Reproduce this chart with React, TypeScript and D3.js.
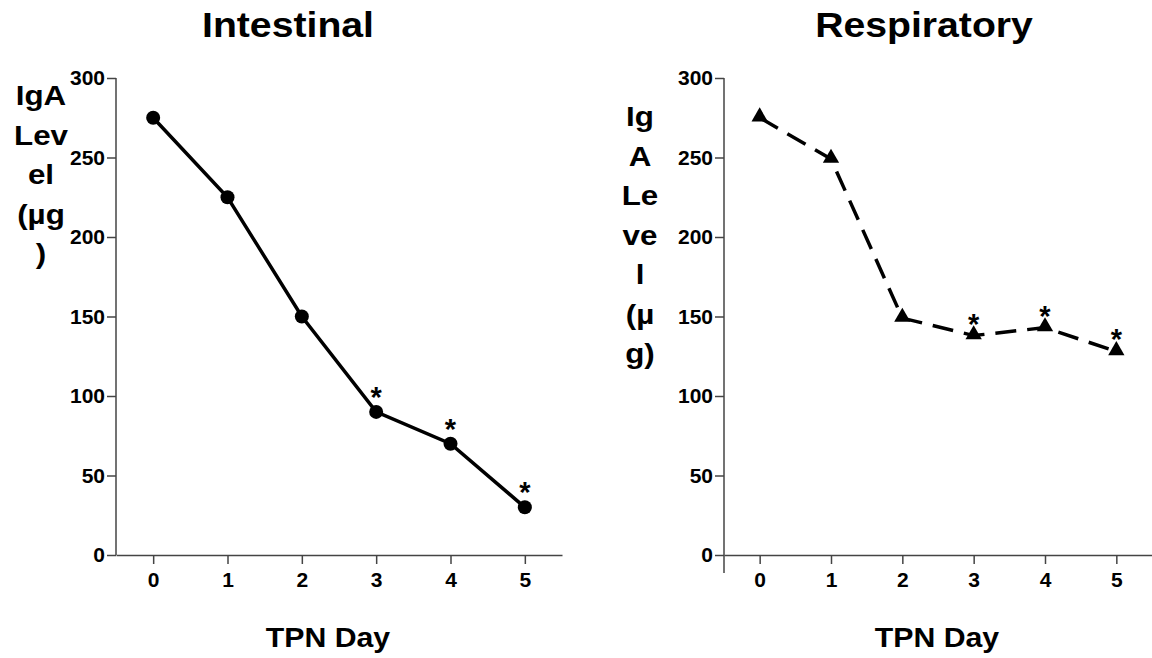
import React, { useEffect, useRef } from 'react';
import * as d3 from 'd3';

const days = [0, 1, 2, 3, 4, 5];
const intestinal = [275, 225, 150, 90, 70, 30];
const respiratory = [275, 249, 149, 138, 143, 128];
const intestinalSig = [false, false, false, true, true, true];
const respiratorySig = [false, false, false, true, true, true];
const yTicks = [0, 50, 100, 150, 200, 250, 300];
const leftYLabel = ['IgA', 'Lev', 'el', '(\u00b5g', ')'];
const rightYLabel = ['Ig', 'A', 'Le', 've', 'l', '(\u00b5', 'g)'];

const FONT = 'Liberation Sans, Arial, Helvetica, sans-serif';

const App = () => {
  const ref = useRef<SVGSVGElement>(null);

  useEffect(() => {
    const svg = d3.select(ref.current);
    svg.selectAll('*').remove();

    // bold text, slightly stretched horizontally like the original
    const wideText = (g: any, x: number, y: number, size: number, sx: number, txt: string) =>
      g.append('text')
        .attr('transform', `translate(${x},${y}) scale(${sx},1)`)
        .attr('text-anchor', 'middle')
        .attr('font-family', FONT)
        .attr('font-weight', 'bold')
        .attr('font-size', size)
        .text(txt);

    const styleAxis = (ax: any) => {
      ax.attr('font-family', FONT).attr('font-weight', 'bold').attr('font-size', 21);
      ax.selectAll('.tick line').attr('stroke', '#444').attr('stroke-width', 1.5);
      ax.selectAll('text')
        .attr('fill', '#000')
        .style('font-size', '21px')
        .style('font-weight', 'bold')
        .style('font-family', FONT);
    };

    const drawPanel = (opts: any) => {
      const { x0, x1, yTop, yBottom, values, sig, title, titleX, xTitleX, labelLines, labelX, labelY0, dashed, marker, axisExtend, starOffset } = opts;
      const x = d3.scaleLinear().domain([-0.5, 5.5]).range([x0, x1]);
      const y = d3.scaleLinear().domain([0, 300]).range([yBottom, yTop]);
      const g = svg.append('g');

      // title
      wideText(g, titleX, 37, 35, 1.12, title);

      // y axis
      const yAxis = g.append('g')
        .attr('transform', `translate(${x0},0)`)
        .call(d3.axisLeft(y).tickValues(yTicks).tickSize(9).tickPadding(2).tickSizeOuter(0));
      yAxis.select('.domain').remove();
      yAxis.append('line')
        .attr('x1', 0).attr('x2', 0)
        .attr('y1', yTop).attr('y2', yBottom + axisExtend)
        .attr('stroke', '#444').attr('stroke-width', 1.5);
      styleAxis(yAxis);

      // x axis
      const xAxis = g.append('g')
        .attr('transform', `translate(0,${yBottom})`)
        .call(d3.axisBottom(x).tickValues(days).tickSize(9).tickPadding(8).tickSizeOuter(0).tickFormat(d3.format('d')));
      xAxis.select('.domain').attr('stroke', '#444').attr('stroke-width', 1.5);
      styleAxis(xAxis);

      // x title
      wideText(g, xTitleX, 647, 28, 1.08, 'TPN Day');

      // y title (wrapped)
      labelLines.forEach((t: string, i: number) => {
        wideText(g, labelX, labelY0 + i * 39.5, 28, 1.12, t);
      });

      const pts = days.map((d, i) => ({ d, v: values[i], s: sig[i] }));
      const line = d3.line<any>().x(p => x(p.d)).y(p => y(p.v));

      g.append('path')
        .datum(pts)
        .attr('d', line)
        .attr('fill', 'none')
        .attr('stroke', '#000')
        .attr('stroke-width', 3.5)
        .attr('stroke-dasharray', dashed ? '21,11' : null);

      if (marker === 'circle') {
        g.selectAll('.pt')
          .data(pts)
          .enter()
          .append('circle')
          .attr('cx', p => x(p.d))
          .attr('cy', p => y(p.v))
          .attr('r', 7)
          .attr('fill', '#000');
      } else {
        const tri = d3.symbol().type(d3.symbolTriangle).size(115);
        g.selectAll('.pt')
          .data(pts)
          .enter()
          .append('path')
          .attr('d', tri)
          .attr('transform', p => `translate(${x(p.d)},${y(p.v) - 1})`)
          .attr('fill', '#000');
      }

      g.selectAll('.star')
        .data(pts.filter(p => p.s))
        .enter()
        .append('text')
        .attr('x', p => x(p.d))
        .attr('y', p => y(p.v) - starOffset)
        .attr('text-anchor', 'middle')
        .attr('font-family', FONT)
        .attr('font-weight', 'bold')
        .attr('font-size', 29)
        .text('*');
    };

    drawPanel({
      x0: 116, x1: 562, yTop: 78, yBottom: 555,
      values: intestinal, sig: intestinalSig,
      title: 'Intestinal', titleX: 288, xTitleX: 328,
      labelLines: leftYLabel, labelX: 41, labelY0: 105,
      dashed: false, marker: 'circle', axisExtend: 0, starOffset: 5,
    });

    drawPanel({
      x0: 724, x1: 1152, yTop: 78, yBottom: 555,
      values: respiratory, sig: respiratorySig,
      title: 'Respiratory', titleX: 924, xTitleX: 937,
      labelLines: rightYLabel, labelX: 640, labelY0: 126,
      dashed: true, marker: 'triangle', axisExtend: 18, starOffset: 2,
    });
  }, []);

  return (
    <svg
      ref={ref}
      width={1152}
      height={658}
      style={{ position: 'absolute', left: 0, top: 0, background: '#fff' }}
    />
  );
};

export default App;
